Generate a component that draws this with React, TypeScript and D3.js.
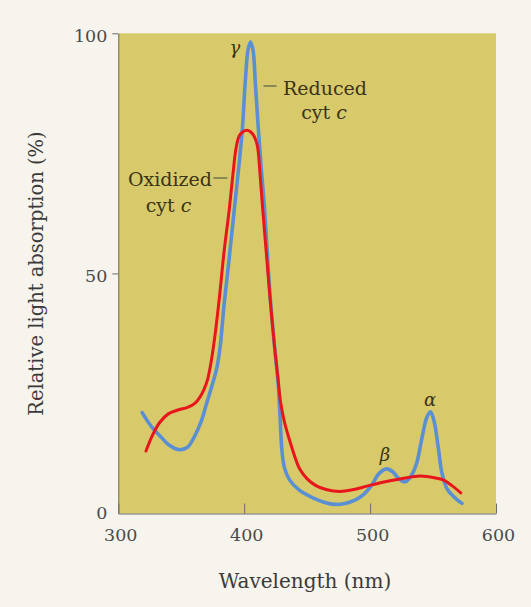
import React, { useEffect, useRef } from "react";
import * as d3 from "d3";

// absorption spectra of cytochrome c
const wavelengthReduced = [
  319, 326, 333, 340, 348, 355, 361, 366, 370, 374, 378, 381, 384, 388, 392,
  396, 398.5, 401, 403, 405, 407, 409, 411, 413.5, 416, 420.5, 424, 427,
  428.5, 430, 432, 436, 444, 455, 464, 472, 480, 488, 495, 501, 507, 513, 518,
  523, 528, 533, 537, 541, 545, 548, 551, 554, 557, 561, 566, 573,
];
const reduced = [
  21, 18.2, 16.2, 14.3, 13.3, 13.8, 16.3, 19.3, 22.8, 26.3, 30, 35, 43.5, 53,
  63, 73, 80, 90.5, 96.5, 98.2, 96.5, 89, 81, 72, 64, 45.5, 35, 27, 20, 13,
  9.5, 7, 4.8, 3.2, 2.3, 1.9, 2.1, 2.8, 4, 5.8, 8.3, 9.3, 8.7, 7.2, 6.6, 8,
  10.5, 15.5, 20, 21.2, 19, 14, 8.5, 5.2, 3.6, 2.1,
];

const wavelengthOxidized = [
  322, 327, 333, 340, 348, 355, 361, 365, 368, 371, 374, 377, 380.5, 384, 388,
  391, 393.5, 396, 399, 402, 405, 408, 410.5, 412.5, 414.5, 417.5, 420.5, 424,
  426.5, 429, 432, 436, 440, 444, 450, 457, 465, 476, 487, 497.5, 510, 524,
  540, 552, 558, 565, 572,
];
const oxidized = [
  13, 16.2, 19, 20.8, 21.6, 22.1, 23, 24.3, 25.8, 28, 32, 37.5, 45.5, 54.5, 63,
  70.5, 76, 78.6, 79.5, 79.8, 79.5, 78.5, 76.5, 71, 64, 54.5, 45, 35, 29, 23,
  19, 15.3, 12, 9.3, 7.2, 5.8, 5, 4.6, 5, 5.7, 6.5, 7.2, 7.8, 7.4, 7, 5.8, 4.3,
];

const xTicks = [300, 400, 500, 600];
const yTicks = [0, 50, 100];

const W = 531;
const H = 607;
const margin = { top: 33.3, right: 35, bottom: 93.5, left: 118.3 };
const font = "'DejaVu Serif', serif";

const App = () => {
  const chart = useRef<SVGSVGElement>(null);

  useEffect(() => {
    const svg = d3.select(chart.current);
    svg.selectAll("*").remove();

    const x = d3
      .scaleLinear()
      .domain([300, 600])
      .range([margin.left, W - margin.right]);
    const y = d3
      .scaleLinear()
      .domain([0, 100])
      .range([H - margin.bottom, margin.top]);

    svg
      .append("rect")
      .attr("width", W)
      .attr("height", H)
      .attr("fill", "#f6f4ec");

    // yellow plot panel
    svg
      .append("rect")
      .attr("x", x(300))
      .attr("y", y(100))
      .attr("width", x(600) - x(300))
      .attr("height", y(0) - y(100))
      .attr("fill", "#d8ca6b");

    const xAxis = svg
      .append("g")
      .attr("transform", `translate(0,${y(0)})`)
      .call(
        d3
          .axisBottom(x)
          .tickValues(xTicks)
          .tickSizeInner(-10)
          .tickSizeOuter(0)
          .tickPadding(15)
      );
    xAxis.select(".domain").attr("stroke", "#6b6b6b");
    xAxis.selectAll(".tick line").attr("stroke", "#6b6b6b");
    xAxis
      .selectAll(".tick text")
      .attr("font-family", font)
      .attr("font-size", 17.5)
      .attr("fill", "#4a4a4a")
      .attr("dx", 2);

    const yAxis = svg
      .append("g")
      .attr("transform", `translate(${x(300)},0)`)
      .call(
        d3
          .axisLeft(y)
          .tickValues(yTicks)
          .tickSizeInner(6)
          .tickSizeOuter(0)
          .tickPadding(5)
      );
    yAxis.select(".domain").attr("stroke", "#6b6b6b");
    yAxis
      .selectAll(".tick line")
      .attr("stroke", "#6b6b6b")
      .attr("opacity", (d: any) => (d === 0 ? 0 : 1));
    yAxis
      .selectAll(".tick text")
      .attr("font-family", font)
      .attr("font-size", 17.5)
      .attr("fill", "#4a4a4a")
      .attr("x", -11)
      .attr("dy", (d: any) => (d === 0 ? "0.3em" : "0.45em"));

    const line = d3
      .line<[number, number]>()
      .x((d) => x(d[0]))
      .y((d) => y(d[1]))
      .curve(d3.curveCatmullRom.alpha(0.5));

    svg
      .append("path")
      .datum(wavelengthReduced.map((w, i) => [w, reduced[i]] as [number, number]))
      .attr("d", line)
      .attr("fill", "none")
      .attr("stroke", "#5b8fd3")
      .attr("stroke-width", 3.6)
      .attr("stroke-linejoin", "round")
      .attr("stroke-linecap", "round");

    svg
      .append("path")
      .datum(wavelengthOxidized.map((w, i) => [w, oxidized[i]] as [number, number]))
      .attr("d", line)
      .attr("fill", "none")
      .attr("stroke", "#e8151c")
      .attr("stroke-width", 3)
      .attr("stroke-linejoin", "round")
      .attr("stroke-linecap", "round");

    // labels inside the panel
    const ink = "#3b3418";
    const label = (tx: number, ty: number, anchor: string) =>
      svg
        .append("text")
        .attr("x", tx)
        .attr("y", ty)
        .attr("text-anchor", anchor)
        .attr("font-family", font)
        .attr("font-size", 19)
        .attr("fill", ink);

    label(283, 95, "start").text("Reduced");
    const rc = label(324, 118.5, "middle");
    rc.append("tspan").text("cyt ");
    rc.append("tspan").attr("font-style", "italic").text("c");

    label(170, 186, "middle").text("Oxidized");
    const oc = label(168.5, 211.5, "middle");
    oc.append("tspan").text("cyt ");
    oc.append("tspan").attr("font-style", "italic").text("c");

    svg
      .append("line")
      .attr("x1", 263.5)
      .attr("x2", 276.5)
      .attr("y1", 86)
      .attr("y2", 86)
      .attr("stroke", "#5a5a4a")
      .attr("stroke-width", 1.2);
    svg
      .append("line")
      .attr("x1", 213.5)
      .attr("x2", 227.5)
      .attr("y1", 178)
      .attr("y2", 178)
      .attr("stroke", "#5a5a4a")
      .attr("stroke-width", 1.2);

    const greek = (t: string, tx: number, ty: number) =>
      svg
        .append("text")
        .attr("x", tx)
        .attr("y", ty)
        .attr("text-anchor", "middle")
        .attr("font-family", font)
        .attr("font-style", "italic")
        .attr("font-size", 18)
        .attr("fill", ink)
        .text(t);
    greek("γ", 235, 54);
    greek("β", 385, 461);
    greek("α", 430, 406);

    // axis titles
    svg
      .append("text")
      .attr("x", 305)
      .attr("y", 588)
      .attr("text-anchor", "middle")
      .attr("font-family", font)
      .attr("font-size", 20)
      .attr("fill", "#3a3a3a")
      .text("Wavelength (nm)");

    svg
      .append("text")
      .attr("transform", "translate(43,273.5) rotate(-90)")
      .attr("text-anchor", "middle")
      .attr("font-family", font)
      .attr("font-size", 19.5)
      .attr("fill", "#3a3a3a")
      .text("Relative light absorption (%)");
  }, []);

  return (
    <svg
      ref={chart}
      width={W}
      height={H}
      style={{ position: "absolute", left: 0, top: 0, display: "block" }}
    ></svg>
  );
};

export default App;
